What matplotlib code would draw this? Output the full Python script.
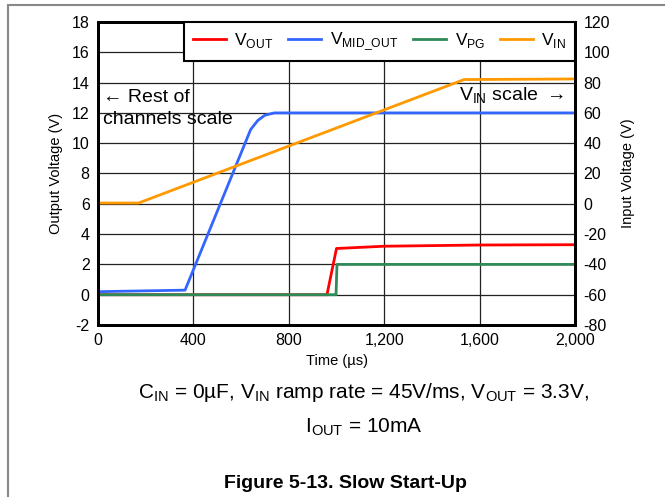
import matplotlib
matplotlib.use("Agg")
import matplotlib.pyplot as plt
from matplotlib.patches import Rectangle

plt.rcParams["font.family"] = ["Liberation Sans", "DejaVu Sans"]
plt.rcParams["mathtext.fontset"] = "custom"
plt.rcParams["mathtext.rm"] = "Liberation Sans"
plt.rcParams["axes.unicode_minus"] = False

# --- Data (time in us) ---
vout_t = [0, 960, 1000, 1200, 1600, 2000]
vout_v = [0.0, 0.0, 3.05, 3.2, 3.28, 3.3]

vmid_t = [0, 365, 640, 670, 700, 740, 2000]
vmid_v = [0.2, 0.3, 10.9, 11.5, 11.85, 12.0, 12.0]

vpg_t = [0, 998, 1002, 2000]
vpg_v = [0.0, 0.0, 2.0, 2.0]

vin_t = [0, 170, 1535, 2000]
vin_v = [0.5, 0.5, 82.0, 82.4]

x_ticks = [0, 400, 800, 1200, 1600, 2000]
x_labels = ["0", "400", "800", "1,200", "1,600", "2,000"]

RED = "#ff0000"
BLUE = "#3366ff"
GREEN = "#2e8b57"
ORANGE = "#ff9900"

fig = plt.figure(figsize=(6.65, 4.97), dpi=100)
ax = fig.add_axes([98 / 665, 1 - 325 / 497, 477 / 665, 303 / 497])
ax2 = ax.twinx()

l1, = ax.plot(vout_t, vout_v, color=RED, lw=2, label=r"V$_{\mathregular{OUT}}$")
l2, = ax.plot(vmid_t, vmid_v, color=BLUE, lw=2, label=r"V$_{\mathregular{MID\_OUT}}$")
l3, = ax.plot(vpg_t, vpg_v, color=GREEN, lw=2, label=r"V$_{\mathregular{PG}}$")
l4, = ax2.plot(vin_t, vin_v, color=ORANGE, lw=2, label=r"V$_{\mathregular{IN}}$")

ax.set_xlim(0, 2000)
ax.set_ylim(-2, 18)
ax2.set_ylim(-80, 120)
ax.set_xticks(x_ticks)
ax.set_xticklabels(x_labels)
ax.set_yticks(range(-2, 19, 2))
ax2.set_yticks(range(-80, 121, 20))
ax.grid(True, color="#222222", lw=0.9)
ax.set_axisbelow(True)

for a in (ax, ax2):
    a.tick_params(length=0, labelsize=11.5, pad=6)
    for s in a.spines.values():
        s.set_linewidth(2)
        s.set_color("black")

ax.set_ylabel("Output Voltage (V)", fontsize=10.5, labelpad=6)
ax2.set_ylabel("Input Voltage (V)", fontsize=10.5, labelpad=8)
ax.set_xlabel("Time (\u00b5s)", fontsize=10.5, labelpad=4)

ax.text(22, 12.3, "\u2190 Rest of\nchannels scale", fontsize=14, va="center",
        ha="left", linespacing=1.35)
ax.text(1955, 13.1, r"V$_{\mathregular{IN}}$ scale $\rightarrow$", fontsize=14,
        va="center", ha="right")

leg = ax2.legend(handles=[l1, l2, l3, l4], loc="upper right", bbox_to_anchor=(1, 1),
                 ncol=4, fontsize=12.5, frameon=True, fancybox=False, borderaxespad=0,
                 handlelength=1.9, columnspacing=0.85, handletextpad=0.5,
                 borderpad=0.5)
leg.get_frame().set_edgecolor("black")
leg.get_frame().set_linewidth(1.5)
leg.get_frame().set_alpha(1)

fig.text(364 / 665, 1 - 393 / 497,
         "C$_{\\mathregular{IN}}$ = 0\u00b5F, V$_{\\mathregular{IN}}$ ramp rate = 45V/ms, "
         "V$_{\\mathregular{OUT}}$ = 3.3V,",
         ha="center", va="center", fontsize=15)
fig.text(364 / 665, 1 - 427 / 497, r"I$_{\mathregular{OUT}}$ = 10mA",
         ha="center", va="center", fontsize=15)
fig.text(345 / 665, 1 - 484 / 497, "Figure 5-13. Slow Start-Up",
         ha="center", va="center", fontsize=14, fontweight="bold")

fig.patches.append(Rectangle((8 / 665, -0.1), 1.1, 1.1 - 5 / 497,
                             transform=fig.transFigure, fill=False,
                             edgecolor="#888888", lw=1.5))

fig.savefig("out.png", dpi=100)
